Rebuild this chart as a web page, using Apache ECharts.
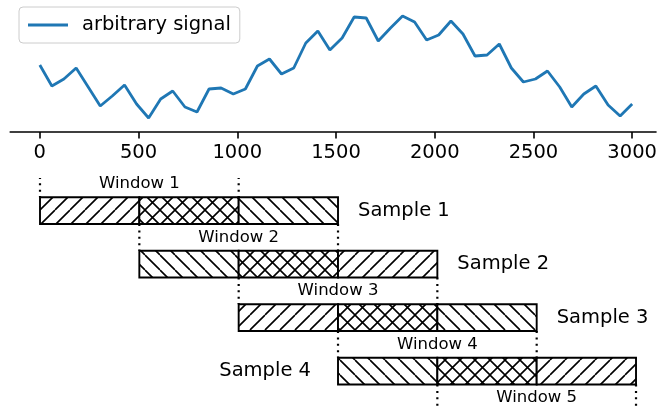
<!DOCTYPE html>
<html>
<head>
<meta charset="utf-8">
<script src="https://cdn.jsdelivr.net/npm/echarts@6/dist/echarts.min.js"></script>
<style>html,body{margin:0;padding:0;background:#fff}#c{width:660px;height:406px}</style>
</head>
<body>
<div id="c"></div>
<script>
// ---- data ----
const signalX = [0, 61, 122, 184, 245, 306, 367, 429, 490, 551, 612, 673, 735, 796, 857, 918, 980, 1041, 1102, 1163,
  1224, 1286, 1347, 1408, 1469, 1531, 1592, 1653, 1714, 1776, 1837, 1898, 1959, 2020, 2082, 2143, 2204, 2265, 2327, 2388,
  2449, 2510, 2571, 2633, 2694, 2755, 2816, 2878, 2939, 3000];
const signalY = [6.7, 4.6, 5.3, 6.4, 4.5, 2.6, 3.6, 4.7, 2.8, 1.4, 3.3, 4.1, 2.5, 2.0, 4.3, 4.4, 3.8, 4.3, 6.6, 7.3,
  5.8, 6.4, 8.9, 10.1, 8.2, 9.4, 11.5, 11.4, 9.1, 10.4, 11.6, 11.0, 9.2, 9.7, 11.1, 9.8, 7.6, 7.7, 8.8, 6.4,
  5.0, 5.3, 6.1, 4.5, 2.5, 3.8, 4.6, 2.7, 1.6, 2.8];
const xTicks = [0, 500, 1000, 1500, 2000, 2500, 3000];
const seriesName = 'arbitrary signal';

const sampleLabels = ['Sample 1', 'Sample 2', 'Sample 3', 'Sample 4'];
const sampleRows = [1, 2, 3, 4];
const sampleStarts = [0, 500, 1000, 1500];
const sectionLength = 500;
const sampleHatches = [['/', 'x', '\\'], ['\\', 'x', '/'], ['/', 'x', '\\'], ['\\', 'x', '/']];

const windowLabels = ['Window 1', 'Window 2', 'Window 3', 'Window 4', 'Window 5'];
const windowStarts = [0, 500, 1000, 1500, 2000];
const windowLength = 1000;

// ---- hatch patterns ----
const FONT = '"DejaVu Sans", sans-serif';
function makeHatch(kind) {
  const s = 15;
  const cv = document.createElement('canvas');
  cv.width = s; cv.height = s;
  const ctx = cv.getContext('2d');
  ctx.fillStyle = '#fff';
  ctx.fillRect(0, 0, s, s);
  ctx.strokeStyle = '#000';
  ctx.lineWidth = 1.6;
  ctx.beginPath();
  for (const o of [-s, 0, s]) {
    if (kind === '/' || kind === 'x') { ctx.moveTo(o, s); ctx.lineTo(o + s, 0); }
    if (kind === '\\' || kind === 'x') { ctx.moveTo(o, 0); ctx.lineTo(o + s, s); }
  }
  ctx.stroke();
  return {image: cv, repeat: 'repeat', x: 10, y: 0};
}
const patterns = {'/': makeHatch('/'), '\\': makeHatch('\\'), 'x': makeHatch('x')};

// ---- derived series data ----
const lineData = signalX.map((x, i) => [x, signalY[i]]);
const sectionData = [], sectionKinds = [];
sampleStarts.forEach((st, i) => {
  sampleHatches[i].forEach((h, j) => {
    sectionData.push([st + j * sectionLength, st + (j + 1) * sectionLength, sampleRows[i]]);
    sectionKinds.push(h);
  });
});
const dotData = [];
windowStarts.forEach((st, k) => {
  [st, st + windowLength].forEach(x => dotData.push([x, k + 0.25, k + 0.75]));
});
const windowData = windowStarts.map((st, k) => [st + windowLength / 2, k + 0.5]);
const sampleData = sampleStarts.map((st, i) => [i === 3 ? st : st + 3 * sectionLength, sampleRows[i]]);

const chart = echarts.init(document.getElementById('c'), null, {renderer: 'canvas'});
const X0 = 10.2, XW = 649.8, XMIN = -150, XMAX = 3120.7;
chart.setOption({
  animation: false,
  backgroundColor: '#fff',
  legend: {
    left: 19, top: 7,
    padding: [8, 9, 8, 9],
    itemWidth: 40, itemHeight: 2.8, icon: 'rect',
    backgroundColor: '#fff', borderColor: '#cccccc', borderWidth: 1, borderRadius: 4,
    textStyle: {fontFamily: FONT, fontSize: 19.5, color: '#000', padding: [0, 0, 0, 9]},
    data: [seriesName]
  },
  grid: [
    {left: X0, width: XW, top: 12, height: 120},
    {left: X0, width: XW, top: 178, height: 228}
  ],
  xAxis: [
    {
      gridIndex: 0, type: 'value', min: XMIN, max: XMAX,
      axisLine: {show: true, lineStyle: {color: '#000', width: 1.6}},
      axisTick: {show: true, length: 6.5, lineStyle: {color: '#000', width: 1.6}, customValues: xTicks},
      axisLabel: {show: true, margin: 11, fontFamily: FONT, fontSize: 19.5, color: '#000', customValues: xTicks,
        formatter: v => String(Math.round(v))},
      splitLine: {show: false}
    },
    {
      gridIndex: 1, type: 'value', min: XMIN, max: XMAX, show: false
    }
  ],
  yAxis: [
    {gridIndex: 0, type: 'value', min: 0, max: 12, show: false},
    {gridIndex: 1, type: 'value', min: 0.39, max: 4.652, inverse: true, show: false}
  ],
  series: [
    {
      name: seriesName, type: 'line', xAxisIndex: 0, yAxisIndex: 0,
      data: lineData, symbol: 'none',
      lineStyle: {color: '#1f77b4', width: 2.8},
      itemStyle: {color: '#1f77b4'}
    },
    {
      type: 'custom', xAxisIndex: 1, yAxisIndex: 1, clip: true,
      data: sectionData, encode: {x: [0, 1], y: 2},
      renderItem: function (params, api) {
        const p0 = api.coord([api.value(0), api.value(2) - 0.25]);
        const p1 = api.coord([api.value(1), api.value(2) + 0.25]);
        return {
          type: 'rect',
          shape: {x: p0[0], y: p0[1], width: p1[0] - p0[0], height: p1[1] - p0[1]},
          style: {fill: patterns[sectionKinds[params.dataIndex]], stroke: '#000', lineWidth: 1.9}
        };
      }
    },
    {
      type: 'custom', xAxisIndex: 1, yAxisIndex: 1, clip: true, z: 3,
      data: dotData, encode: {x: 0, y: [1, 2]},
      renderItem: function (params, api) {
        const a = api.coord([api.value(0), api.value(1)]);
        const b = api.coord([api.value(0), api.value(2)]);
        return {
          type: 'line',
          shape: {x1: a[0], y1: a[1], x2: b[0], y2: b[1]},
          style: {stroke: '#000', lineWidth: 2.2, lineDash: [2, 4.4]}
        };
      }
    },
    {
      type: 'custom', xAxisIndex: 1, yAxisIndex: 1, z: 4,
      data: windowData, encode: {x: 0, y: 1},
      renderItem: function (params, api) {
        const p = api.coord([api.value(0), api.value(1)]);
        return {
          type: 'text',
          style: {text: windowLabels[params.dataIndex], x: p[0], y: p[1], align: 'center', verticalAlign: 'middle',
            font: '16.5px ' + FONT, fill: '#000'}
        };
      }
    },
    {
      type: 'custom', xAxisIndex: 1, yAxisIndex: 1, z: 4,
      data: sampleData, encode: {x: 0, y: 1},
      renderItem: function (params, api) {
        const i = params.dataIndex;
        const p = api.coord([api.value(0), api.value(1)]);
        const left = i === 3;
        return {
          type: 'text',
          style: {text: sampleLabels[i], x: p[0] + (left ? -27 : 20), y: p[1], align: left ? 'right' : 'left',
            verticalAlign: 'middle', font: '19.5px ' + FONT, fill: '#000'}
        };
      }
    }
  ]
});
</script>
</body>
</html>
